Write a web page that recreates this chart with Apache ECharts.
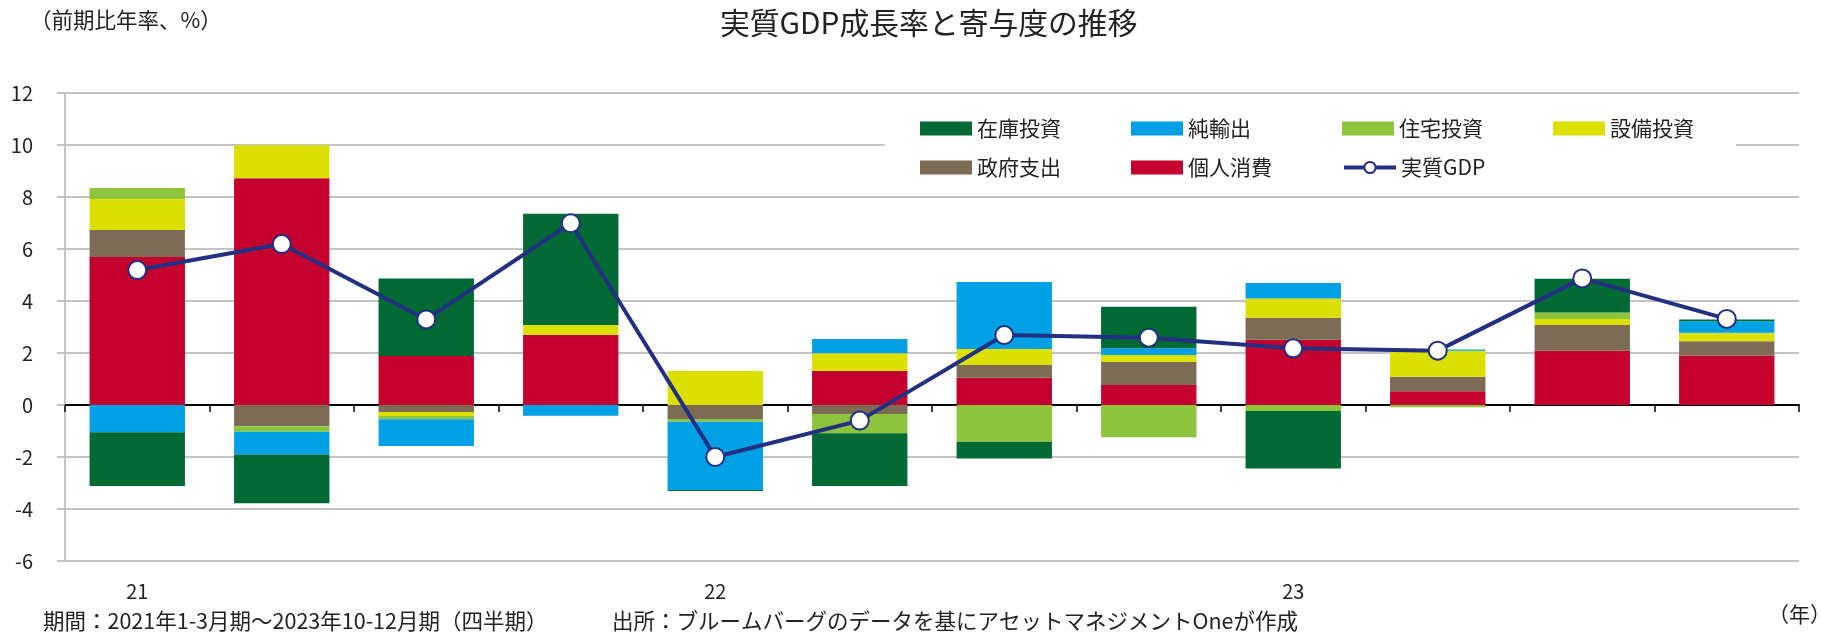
<!DOCTYPE html>
<html lang="ja">
<head>
<meta charset="utf-8">
<title>実質GDP成長率と寄与度の推移</title>
<script src="https://cdn.jsdelivr.net/npm/echarts@6/dist/echarts.min.js"></script>
<style>
html, body { margin: 0; padding: 0; background: #fff; }
#chart { width: 1821px; height: 633px; }
</style>
</head>
<body>
<div id="chart"></div>
<script>
// 2021年1-3月期～2023年10-12月期（四半期）
const quarters = ['2021Q1', '2021Q2', '2021Q3', '2021Q4', '2022Q1', '2022Q2', '2022Q3', '2022Q4', '2023Q1', '2023Q2', '2023Q3', '2023Q4'];
const yearLabels = ['21', '', '', '', '22', '', '', '', '23', '', '', ''];

// 寄与度（前期比年率、%）
const consumption = [5.69, 8.72, 1.88, 2.69, 0, 1.31, 1.05, 0.77, 2.51, 0.53, 2.09, 1.90];   // 個人消費
const government = [1.04, -0.82, -0.27, 0, -0.54, -0.35, 0.49, 0.88, 0.85, 0.56, 0.99, 0.55]; // 政府支出
const equipment = [1.19, 1.27, -0.15, 0.39, 1.31, 0.68, 0.61, 0.27, 0.74, 1.00, 0.23, 0.31];  // 設備投資
const housing = [0.43, -0.21, -0.13, 0, -0.10, -0.74, -1.41, -1.24, -0.23, -0.09, 0.25, 0.02]; // 住宅投資
const netExports = [-1.05, -0.87, -1.03, -0.41, -2.63, 0.55, 2.58, 0.26, 0.59, 0.04, 0, 0.44]; // 純輸出
const inventory = [-2.07, -1.88, 2.99, 4.28, -0.04, -2.03, -0.65, 1.60, -2.21, 0, 1.30, 0.07]; // 在庫投資
const realGdp = [5.19, 6.19, 3.29, 6.99, -2.00, -0.60, 2.69, 2.59, 2.18, 2.09, 4.87, 3.31];   // 実質GDP

const yMin = -6;
const yMax = 12;
const yStep = 2;

const FONT = '"Noto Sans CJK JP", "Noto Sans", sans-serif';
const GRID_COLOR = '#c4c4c4';
const GDP_COLOR = '#233082';

const chart = echarts.init(document.getElementById('chart'));

const barSeries = [
  { name: '個人消費', data: consumption, color: '#c4002f' },
  { name: '政府支出', data: government, color: '#7c6b55' },
  { name: '設備投資', data: equipment, color: '#dce000' },
  { name: '住宅投資', data: housing, color: '#8cc43c' },
  { name: '純輸出', data: netExports, color: '#00a0e6' },
  { name: '在庫投資', data: inventory, color: '#006934' }
].map(s => ({
  name: s.name,
  type: 'bar',
  stack: 'contrib',
  xAxisIndex: 0,
  barWidth: '66%',
  itemStyle: { color: s.color },
  emphasis: { disabled: true },
  data: s.data
}));

const textBase = { fontWeight: 'normal', color: '#222', fontFamily: FONT };

const option = {
  animation: false,
  textStyle: { fontFamily: FONT },
  title: [
    {
      text: '実質GDP成長率と寄与度の推移',
      left: 720, top: 8, padding: 0,
      textStyle: { ...textBase, fontSize: 29.8 }
    },
    {
      text: '（前期比年率、%）',
      left: 30, top: 9, padding: 0,
      textStyle: { ...textBase, fontSize: 21.5 }
    },
    {
      text: '期間：2021年1-3月期～2023年10-12月期（四半期）',
      left: 43, top: 610, padding: 0,
      textStyle: { ...textBase, fontSize: 21.5 }
    },
    {
      text: '出所：ブルームバーグのデータを基にアセットマネジメントOneが作成',
      left: 612, top: 610, padding: 0,
      textStyle: { ...textBase, fontSize: 21.5 }
    },
    {
      text: '（年）',
      left: 1768, top: 604, padding: 0,
      textStyle: { ...textBase, fontSize: 21 }
    }
  ],
  legend: {
    left: 885, top: 104,
    width: 790,
    padding: [5, 36, 5, 35],
    backgroundColor: '#fff',
    itemGap: 0,
    itemWidth: 52,
    itemHeight: 14,
    selectedMode: false,
    textStyle: { fontSize: 21, color: '#222', width: 154, lineHeight: 39, fontFamily: FONT },
    data: [
      { name: '在庫投資', icon: 'rect' },
      { name: '純輸出', icon: 'rect' },
      { name: '住宅投資', icon: 'rect' },
      { name: '設備投資', icon: 'rect', textStyle: { width: 90 } },
      { name: '政府支出', icon: 'rect' },
      { name: '個人消費', icon: 'rect' },
      { name: '実質GDP', lineStyle: { width: 4, color: GDP_COLOR } }
    ]
  },
  grid: { left: 65, right: 22, top: 93, bottom: 72 },
  xAxis: [
    {
      type: 'category',
      data: quarters,
      axisLine: { onZero: true, lineStyle: { color: '#000', width: 2 } },
      axisTick: { show: true, length: 7, lineStyle: { color: '#000', width: 1.5 } },
      axisLabel: { show: false },
      splitLine: { show: false }
    },
    {
      type: 'category',
      data: quarters,
      position: 'bottom',
      axisLine: { show: false, onZero: false },
      axisTick: { show: false },
      axisLabel: {
        interval: 0,
        margin: 20,
        fontSize: 20,
        color: '#222',
        fontFamily: FONT,
        formatter: (v, i) => yearLabels[i]
      },
      splitLine: { show: false }
    }
  ],
  yAxis: {
    type: 'value',
    min: yMin,
    max: yMax,
    interval: yStep,
    axisLine: { show: true, lineStyle: { color: GRID_COLOR, width: 2 } },
    axisTick: { show: true, length: 8, lineStyle: { color: GRID_COLOR, width: 2 } },
    axisLabel: { fontSize: 20, color: '#222', margin: 32, fontFamily: FONT },
    splitLine: { lineStyle: { color: GRID_COLOR, width: 2 } }
  },
  series: [
    ...barSeries,
    {
      name: '実質GDP',
      type: 'line',
      xAxisIndex: 0,
      data: realGdp,
      symbol: 'circle',
      symbolSize: 18,
      lineStyle: { color: GDP_COLOR, width: 4 },
      itemStyle: { color: '#fff', borderColor: GDP_COLOR, borderWidth: 2 },
      emphasis: { disabled: true },
      z: 5
    }
  ]
};

chart.setOption(option);
window.addEventListener('resize', () => chart.resize());
</script>
</body>
</html>
